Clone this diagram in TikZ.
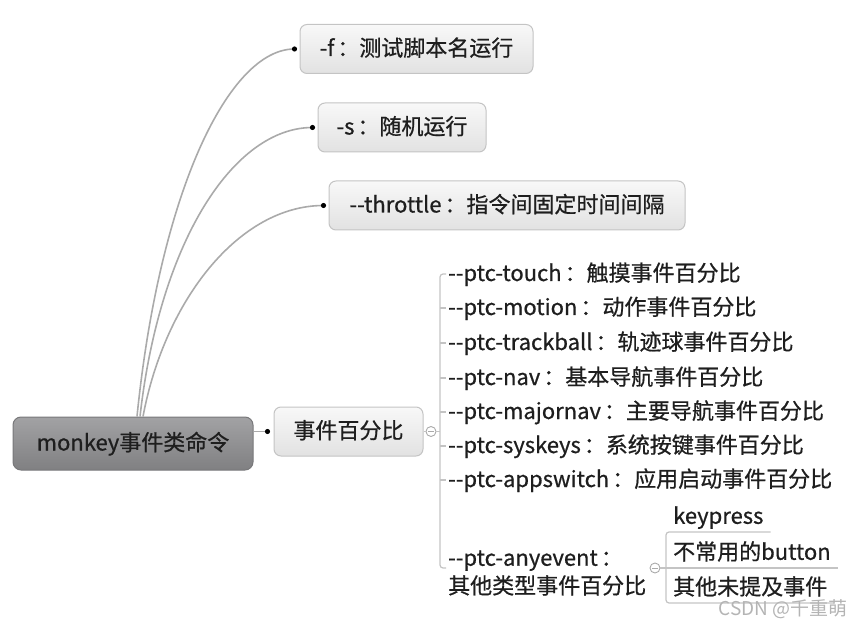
\documentclass[tikz,border=0pt]{standalone}
\usepackage{fontspec}
\newfontfamily\cjk{Noto Sans CJK SC}[FakeBold=0.7]
\newfontfamily\cjkthin{Noto Sans CJK SC}
\usepackage{xcolor}
\usepackage{tikz}
\usetikzlibrary{positioning,calc,shapes}

\definecolor{roottop}{RGB}{162,162,164}
\definecolor{rootbot}{RGB}{128,128,130}
\definecolor{rootedge}{RGB}{120,120,122}
\definecolor{boxtop}{RGB}{248,248,248}
\definecolor{boxbot}{RGB}{226,226,226}
\definecolor{boxedge}{RGB}{196,196,196}
\definecolor{branchgray}{RGB}{170,170,170}
\definecolor{linegray}{RGB}{196,196,196}
\definecolor{knobedge}{RGB}{170,170,170}
\definecolor{txt}{RGB}{30,30,30}
\definecolor{wmgray}{RGB}{180,180,180}

\newcommand{\cln}{\kern3pt：}

\begin{document}
\begin{tikzpicture}[x=1pt,y=-1pt,
    every node/.style={font=\cjk\fontsize{22}{28}\selectfont, text=txt},
    rootbox/.style={draw=rootedge, line width=1pt, rounded corners=8pt, top color=roottop, bottom color=rootbot, minimum width=240pt, minimum height=53pt, text height=17pt, text depth=3pt},
    topicbox/.style={draw=boxedge, line width=1pt, rounded corners=7pt, top color=boxtop, bottom color=boxbot, minimum height=49pt, text height=17pt, text depth=3pt},
    item/.style={anchor=west, inner xsep=2pt, text height=17pt, text depth=3pt},
    subitem/.style={anchor=south west, inner xsep=7pt, inner ysep=5pt, text height=17pt, text depth=3pt},
    branch/.style={draw=branchgray, line width=1.6pt},
    bracket/.style={draw=linegray, line width=1.2pt},
    knob/.style={circle, draw=knobedge, fill=white, line width=0.9pt, minimum size=10pt, inner sep=0pt}]
    \useasboundingbox (0,0) rectangle (865,628);

    % root and first level
    \node[rootbox] (root) at (133,443.5) {monkey事件类命令};
    \node[topicbox, minimum width=233pt] (f) at (416.5,49) {-f\cln 测试脚本名运行};
    \node[topicbox, minimum width=168pt] (s) at (402,127.5) {-s\cln 随机运行};
    \node[topicbox, minimum width=356pt] (thr) at (507,205.5) {--throttle\cln 指令间固定时间间隔};
    \node[topicbox, minimum width=149pt] (pct) at (348.5,431.5) {事件百分比};

    \draw[branch] ([xshift=4pt]root.north) .. controls +(23,-227) and +(-65,0) .. ([xshift=-5pt]f.west);
    \draw[branch] ([xshift=7pt]root.north) .. controls +(20,-177) and +(-78,0) .. ([xshift=-5pt]s.west);
    \draw[branch] ([xshift=10pt]root.north) .. controls +(22,-117) and +(-84,0) .. ([xshift=-5pt]thr.west);
    \draw[branch] (root.east |- pct.west) -- ([xshift=-6pt]pct.west);
    \fill ([xshift=-5pt]f.west) circle (2.6pt);
    \fill ([xshift=-5pt]s.west) circle (2.6pt);
    \fill ([xshift=-5pt]thr.west) circle (2.6pt);
    \fill ([xshift=-6pt]pct.west) circle (2.6pt);

    % percentage options
    \foreach \n/\y/\t in {touch/274/{--ptc-touch\cln 触摸事件百分比},
                          motion/308/{--ptc-motion\cln 动作事件百分比},
                          trackball/343/{--ptc-trackball\cln 轨迹球事件百分比},
                          nav/378/{--ptc-nav\cln 基本导航事件百分比},
                          majornav/412/{--ptc-majornav\cln 主要导航事件百分比},
                          syskeys/446/{--ptc-syskeys\cln 系统按键事件百分比},
                          appswitch/480/{--ptc-appswitch\cln 应用启动事件百分比}}
        \node[item] (\n) at (446,\y) {\t};
    \node[anchor=west, inner xsep=2pt, align=left] (any) at (446,573) {--ptc-anyevent\cln\\其他类型事件百分比};

    \coordinate (spine) at (440,431.5);
    \node[knob] (knob1) at (431,431.5) {};
    \draw[knobedge, line width=1pt] ([xshift=-3pt]knob1.center) -- ([xshift=3pt]knob1.center);
    \draw[bracket] (pct.east) -- (knob1.west);
    \draw[bracket] (knob1.east) -- (spine);
    \draw[bracket, rounded corners=3pt] (touch.west) -| (spine) |- ([yshift=5pt]any.west);
    \foreach \n in {motion,trackball,nav,majornav,syskeys,appswitch}
        \draw[bracket] (\n.west -| spine) -- (\n.west);

    % anyevent children
    \node[subitem] (key) at (666,532) {keypress};
    \node[subitem] (btn) at (666,568) {不常用的button};
    \node[subitem] (other) at (666,603) {其他未提及事件};

    \coordinate (subspine) at (666,568);
    \node[knob] (knob2) at (655,568) {};
    \draw[knobedge, line width=1pt] ([xshift=-3pt]knob2.center) -- ([xshift=3pt]knob2.center);
    \draw[bracket, rounded corners=3pt] (key.south east) -| (subspine) |- (other.south east);
    \draw[bracket] (knob2.east) -- (btn.south east);

    \node[text=wmgray, font=\cjkthin\fontsize{19}{22}\selectfont] (wm) at (783,609) {CSDN @千重萌};
\end{tikzpicture}
\end{document}
